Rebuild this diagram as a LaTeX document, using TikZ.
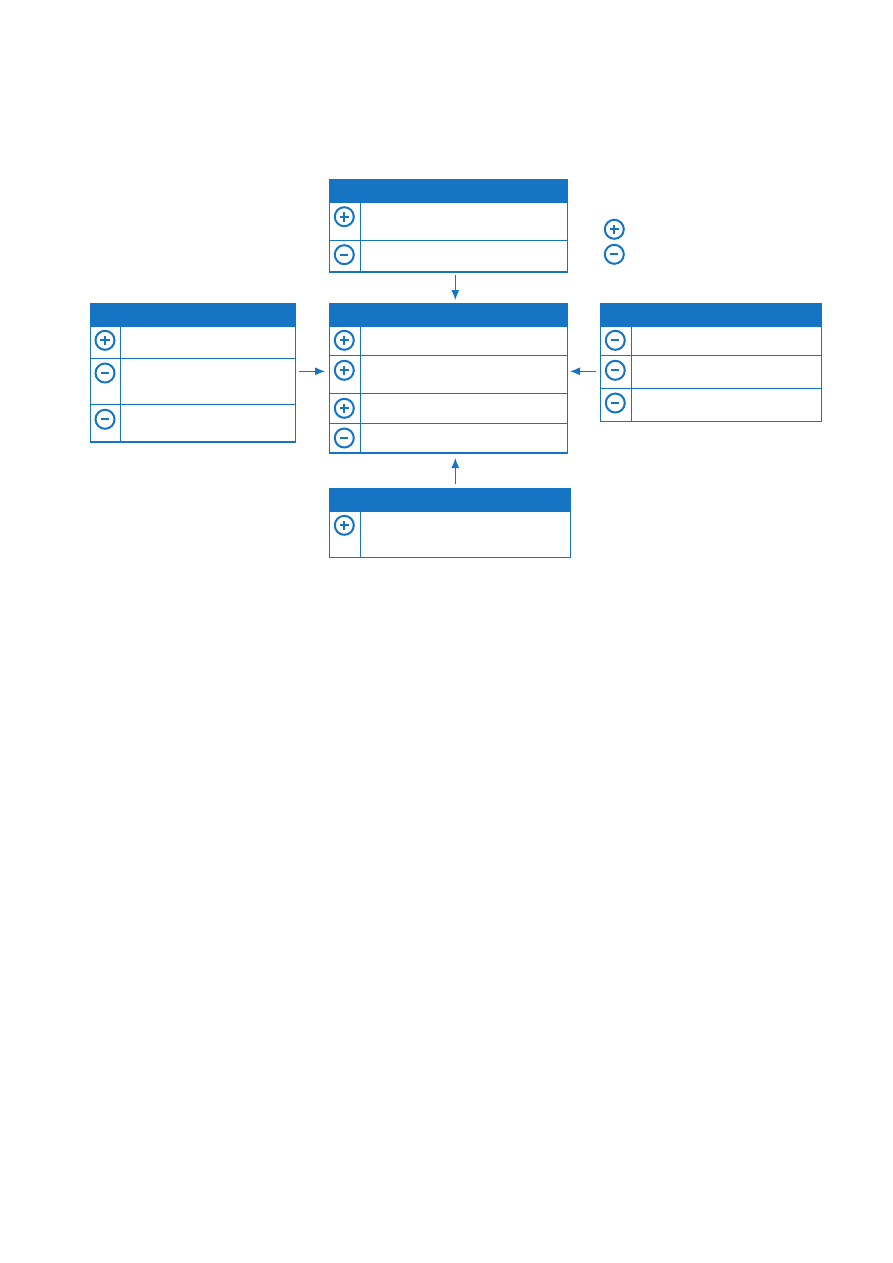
\documentclass[tikz,border=0pt]{standalone}
\usetikzlibrary{arrows.meta,positioning}
\definecolor{chartblue}{RGB}{21,116,196}

\begin{document}
\begin{tikzpicture}[x=1pt,y=-1pt]
        \tikzset{every node/.style={inner sep=0pt,outer sep=0pt},
          headbox/.style={draw=chartblue,fill=chartblue,line width=1.1pt,anchor=north west,minimum height=23.5pt},
          cell/.style={draw=chartblue,line width=1.1pt,anchor=north west},
          signpos/.style={circle,draw=chartblue,line width=2pt,minimum size=19pt,
            path picture={\draw[chartblue,line width=1.7pt]
              (path picture bounding box.center) +(-4.8pt,0) -- +(4.8pt,0)
              (path picture bounding box.center) +(0,-4.8pt) -- +(0,4.8pt);}},
          signneg/.style={circle,draw=chartblue,line width=2pt,minimum size=19pt,
            path picture={\draw[chartblue,line width=2.3pt]
              (path picture bounding box.center) +(-3.9pt,0) -- +(3.9pt,0);}},
          flow/.style={draw=chartblue,line width=1.1pt,-{Latex[length=10pt,width=8pt]}}}
        \useasboundingbox (0,0) rectangle (893,1263);

        % top table
        \node[headbox,minimum width=237.5pt] (tophead) at (329.8,179.2) {};
        \node[cell,minimum width=30.5pt,minimum height=37.6pt] (topa) at (tophead.south west) {};
        \node[cell,minimum width=207pt,minimum height=37.6pt] (topatext) at (topa.north east) {};
        \node[cell,minimum width=30.5pt,minimum height=31.7pt] (topb) at (topa.south west) {};
        \node[cell,minimum width=207pt,minimum height=31.7pt] (topbtext) at (topb.north east) {};
        \node[signpos] at (344.3,216.7) (topasign) {};
        \node[signneg] at (344.3,254.7) (topbsign) {};

        % legend
        \node[signpos] at (614.3,229.3) (legendpos) {};
        \node[signneg] at (614.3,254.3) (legendneg) {};

        % centre table
        \node[headbox,minimum width=237.5pt] (midhead) at (329.8,303.2) {};
        \node[cell,minimum width=30.5pt,minimum height=28.6pt] (mida) at (midhead.south west) {};
        \node[cell,minimum width=207pt,minimum height=28.6pt] (midatext) at (mida.north east) {};
        \node[cell,minimum width=30.5pt,minimum height=38pt] (midb) at (mida.south west) {};
        \node[cell,minimum width=207pt,minimum height=38pt] (midbtext) at (midb.north east) {};
        \node[cell,minimum width=30.5pt,minimum height=30pt] (midc) at (midb.south west) {};
        \node[cell,minimum width=207pt,minimum height=30pt] (midctext) at (midc.north east) {};
        \node[cell,minimum width=30.5pt,minimum height=29.7pt] (midd) at (midc.south west) {};
        \node[cell,minimum width=207pt,minimum height=29.7pt] (middtext) at (midd.north east) {};
        \node[signpos] at (344.3,340.3) (midasign) {};
        \node[signpos] at (344.3,370.3) (midbsign) {};
        \node[signpos] at (344.3,408.3) (midcsign) {};
        \node[signneg] at (344.3,438) (middsign) {};

        % left table
        \node[headbox,minimum width=205pt] (lefthead) at (90.3,303.2) {};
        \node[cell,minimum width=30pt,minimum height=31.6pt] (lefta) at (lefthead.south west) {};
        \node[cell,minimum width=175pt,minimum height=31.6pt] (leftatext) at (lefta.north east) {};
        \node[cell,minimum width=30pt,minimum height=46pt] (leftb) at (lefta.south west) {};
        \node[cell,minimum width=175pt,minimum height=46pt] (leftbtext) at (leftb.north east) {};
        \node[cell,minimum width=30pt,minimum height=37.7pt] (leftc) at (leftb.south west) {};
        \node[cell,minimum width=175pt,minimum height=37.7pt] (leftctext) at (leftc.north east) {};
        \node[signpos] at (105,340.3) (leftasign) {};
        \node[signneg] at (105,373) (leftbsign) {};
        \node[signneg] at (105,419.3) (leftcsign) {};

        % right table
        \node[headbox,minimum width=221pt] (righthead) at (600.3,303.2) {};
        \node[cell,minimum width=31pt,minimum height=28.6pt] (righta) at (righthead.south west) {};
        \node[cell,minimum width=190pt,minimum height=28.6pt] (rightatext) at (righta.north east) {};
        \node[cell,minimum width=31pt,minimum height=33pt] (rightb) at (righta.south west) {};
        \node[cell,minimum width=190pt,minimum height=33pt] (rightbtext) at (rightb.north east) {};
        \node[cell,minimum width=31pt,minimum height=33pt] (rightc) at (rightb.south west) {};
        \node[cell,minimum width=190pt,minimum height=33pt] (rightctext) at (rightc.north east) {};
        \node[signneg] at (615.3,340.3) (rightasign) {};
        \node[signneg] at (615.3,370.3) (rightbsign) {};
        \node[signneg] at (615.3,403) (rightcsign) {};

        % bottom table
        \node[headbox,minimum width=240.5pt] (lowhead) at (329.8,488.2) {};
        \node[cell,minimum width=30.5pt,minimum height=45.6pt] (lowa) at (lowhead.south west) {};
        \node[cell,minimum width=210pt,minimum height=45.6pt] (lowatext) at (lowa.north east) {};
        \node[signpos] at (344.3,525.3) (lowasign) {};

        % arrows into the centre table
        \coordinate (flowx) at (455.3,0);
        \coordinate (flowy) at (0,371.3);
        \draw[flow,shorten <=3pt,shorten >=3.2pt] (flowx |- topbtext.south) -- (flowx |- midhead.north);
        \draw[flow,shorten <=4pt,shorten >=5pt] (flowx |- lowhead.north) -- (flowx |- middtext.south);
        \draw[flow,shorten <=3.7pt,shorten >=4.8pt] (leftbtext.east |- flowy) -- (midb.west |- flowy);
        \draw[flow,shorten <=4.6pt,shorten >=2.7pt] (rightb.west |- flowy) -- (midbtext.east |- flowy);
      \end{tikzpicture}
\end{document}
